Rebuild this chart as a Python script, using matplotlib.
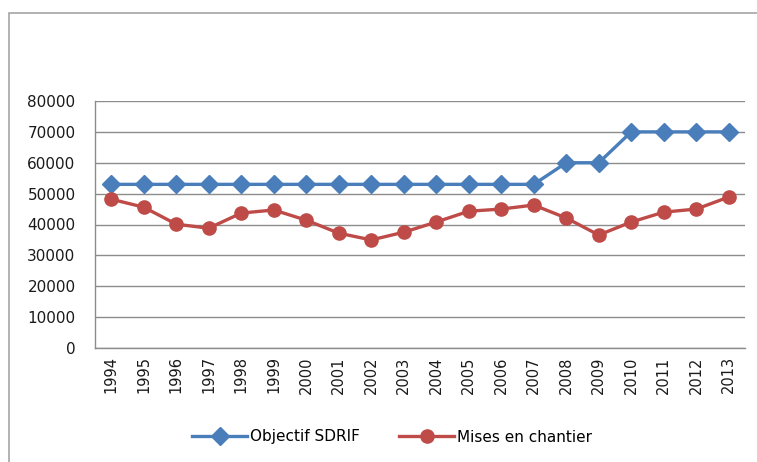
import matplotlib
matplotlib.use("Agg")
import matplotlib.pyplot as plt
from matplotlib.patches import Rectangle

years = [str(y) for y in range(1994, 2014)]
objectif_sdrif = [53000, 53000, 53000, 53000, 53000, 53000, 53000, 53000, 53000, 53000,
                  53000, 53000, 53000, 53000, 60000, 60000, 70000, 70000, 70000, 70000]
mises_en_chantier = [48200, 45600, 40100, 38800, 43700, 44700, 41400, 37200, 35000, 37500,
                     40800, 44300, 45000, 46300, 42100, 36600, 40800, 44000, 45000, 48900]
y_ticks = [0, 10000, 20000, 30000, 40000, 50000, 60000, 70000, 80000]

plt.rcParams['font.family'] = ['DejaVu Sans']

fig = plt.figure(figsize=(7.57, 4.62), dpi=100)
# outer chart frame (partly cut off on the right and bottom)
fig.patches.append(Rectangle((9 / 757, -0.1), 1.2, 1 - 13 / 462 + 0.1,
                             transform=fig.transFigure, fill=False,
                             edgecolor='#a6a6a6', linewidth=1.2))

ax = fig.add_axes([95 / 757, 1 - 348 / 462, 650 / 757, 247 / 462])
x = range(len(years))

ax.plot(x, objectif_sdrif, color='#4a7ebb', linewidth=2.4, marker='D',
        markersize=9, label='Objectif SDRIF', zorder=3)
ax.plot(x, mises_en_chantier, color='#be4b48', linewidth=2.4, marker='o',
        markersize=9.5, label='Mises en chantier', zorder=3)

ax.set_xlim(-0.5, len(years) - 0.5)
ax.set_ylim(0, 80000)
ax.set_yticks(y_ticks)
ax.set_yticklabels([str(v) for v in y_ticks], fontsize=11)
ax.set_xticks(list(x))
ax.set_xticklabels(years, rotation=90, fontsize=10.5)
ax.tick_params(length=0, colors='#1a1a1a')
ax.tick_params(axis='y', pad=14)
ax.tick_params(axis='x', pad=6)

ax.grid(axis='y', color='#8c8c8c', linewidth=1)
ax.set_axisbelow(True)
for side in ['top', 'right']:
    ax.spines[side].set_visible(False)
for side in ['left', 'bottom']:
    ax.spines[side].set_color('#8c8c8c')
    ax.spines[side].set_linewidth(1)

ax.legend(loc='center', bbox_to_anchor=(392 / 757, 1 - 437 / 462),
          bbox_transform=fig.transFigure, ncol=2, frameon=False,
          fontsize=11, handlelength=3.6, handletextpad=0.15, columnspacing=2.6)

fig.savefig('out.png', dpi=100)
